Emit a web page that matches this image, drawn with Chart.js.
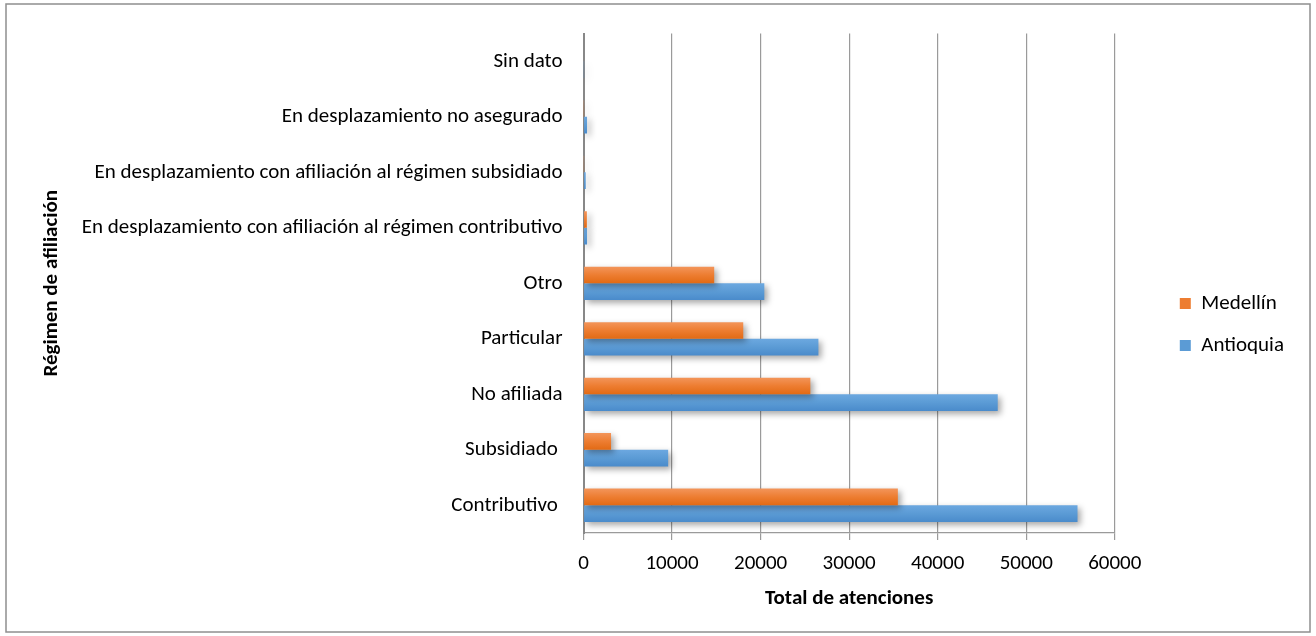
<!DOCTYPE html>
<html>
<head>
<meta charset="utf-8">
<script src="https://cdn.jsdelivr.net/npm/chart.js@4/dist/chart.umd.min.js"></script>
<style>
html,body{margin:0;padding:0;background:#fff;}
#wrap{position:absolute;left:0;top:0;width:1316px;height:636px;}
</style>
</head>
<body>
<div id="wrap"><canvas id="c" width="1316" height="636"></canvas></div>
<script>
const categories = [
  'Sin dato',
  'En desplazamiento no asegurado',
  'En desplazamiento con afiliación al régimen subsidiado',
  'En desplazamiento con afiliación al régimen contributivo',
  'Otro',
  'Particular',
  'No afiliada',
  'Subsidiado ',
  'Contributivo '
];
const seriesNames = ['Medellín', 'Antioquia'];
const medellin = [0, 10, 20, 380, 14760, 18040, 25620, 3110, 35500];
const antioquia = [20, 400, 250, 400, 20420, 26530, 46780, 9560, 55790];
const xTicks = [0, 10000, 20000, 30000, 40000, 50000, 60000];

const FONT = 'Carlito, Calibri, Lato, sans-serif';
const FS = 21;
const colors = [
  {flat:'#ED7D31', top:'#F3955A', bot:'#E26A14'},
  {flat:'#5B9BD5', top:'#6CA8E0', bot:'#4A8BCB'}
];

function barFill(c){
  const col = colors[c.datasetIndex];
  const chart = c.chart;
  if (c.type !== 'data' || !chart.chartArea || !chart.scales.y) return col.flat;
  const ca = chart.chartArea;
  const band = (ca.bottom - ca.top) / categories.length;
  const th = band * 0.6 / 2;
  const center = chart.scales.y.getPixelForValue(c.dataIndex) + (c.datasetIndex === 0 ? -th/2 : th/2);
  const g = chart.ctx.createLinearGradient(0, center - th/2, 0, center + th/2);
  g.addColorStop(0, col.top);
  g.addColorStop(0.5, col.flat);
  g.addColorStop(1, col.bot);
  return g;
}

const shadowPlugin = {
  id: 'shadow',
  beforeDatasetsDraw(chart){
    const ctx = chart.ctx;
    ctx.save();
    ctx.shadowColor = 'rgba(0,0,0,0.35)';
    ctx.shadowBlur = 6;
    ctx.shadowOffsetX = 3;
    ctx.shadowOffsetY = 3;
  },
  afterDatasetsDraw(chart){ chart.ctx.restore(); }
};

const framePlugin = {
  id: 'frame',
  afterDraw(chart){
    const ctx = chart.ctx;
    ctx.save();
    ctx.strokeStyle = '#8f8f8f';
    ctx.lineWidth = 1.5;
    ctx.strokeRect(6, 4, 1304, 628);
    ctx.restore();
  }
};

new Chart(document.getElementById('c'), {
  type: 'bar',
  data: {
    labels: categories,
    datasets: [
      {label: seriesNames[0], data: medellin, backgroundColor: barFill, categoryPercentage: 0.6, barPercentage: 1.0},
      {label: seriesNames[1], data: antioquia, backgroundColor: barFill, categoryPercentage: 0.6, barPercentage: 1.0}
    ]
  },
  options: {
    indexAxis: 'y',
    responsive: false,
    animation: false,
    devicePixelRatio: 1,
    layout: {padding: {left: 36, right: 22, top: 33, bottom: 20}},
    plugins: {
      legend: {
        position: 'right',
        labels: {
          color: '#000',
          font: {family: FONT, size: FS},
          boxWidth: 11,
          boxHeight: 11,
          padding: 21,
          generateLabels(chart){
            return chart.data.datasets.map((d, i) => ({
              text: d.label, fillStyle: colors[i].flat, strokeStyle: colors[i].flat, lineWidth: 0, datasetIndex: i, hidden: false
            }));
          }
        }
      },
      tooltip: {enabled: false}
    },
    scales: {
      x: {
        min: 0, max: 60000,
        afterBuildTicks(scale){ scale.ticks = xTicks.map(v => ({value: v})); },
        afterFit(scale){ scale.height = 83; },
        ticks: {color: '#000', font: {family: FONT, size: FS}, padding: 11, callback: v => String(v)},
        grid: {color: '#9a9a9a', lineWidth: 1.2, drawTicks: true, tickLength: 7, tickColor: '#9a9a9a'},
        border: {display: true, color: '#9a9a9a', width: 1.2},
        title: {display: true, text: 'Total de atenciones', color: '#000', font: {family: FONT, size: FS, weight: 'bold'}, padding: {top: 10, bottom: 5}}
      },
      y: {
        afterFit(scale){ scale.width = 547.5; },
        ticks: {color: '#000', font: {family: FONT, size: FS}, padding: 21},
        grid: {display: false, drawTicks: false},
        border: {display: true, color: '#888', width: 2},
        title: {display: true, text: 'Régimen de afiliación', color: '#000', font: {family: FONT, size: FS, weight: 'bold'}, padding: {top: 3, bottom: 3}}
      },
      gap: {
        type: 'category',
        position: 'right',
        labels: categories,
        afterFit(scale){ scale.width = 44; },
        ticks: {display: false},
        grid: {display: false, drawTicks: false},
        border: {display: false}
      }
    }
  },
  plugins: [shadowPlugin, framePlugin]
});
</script>
</body>
</html>
